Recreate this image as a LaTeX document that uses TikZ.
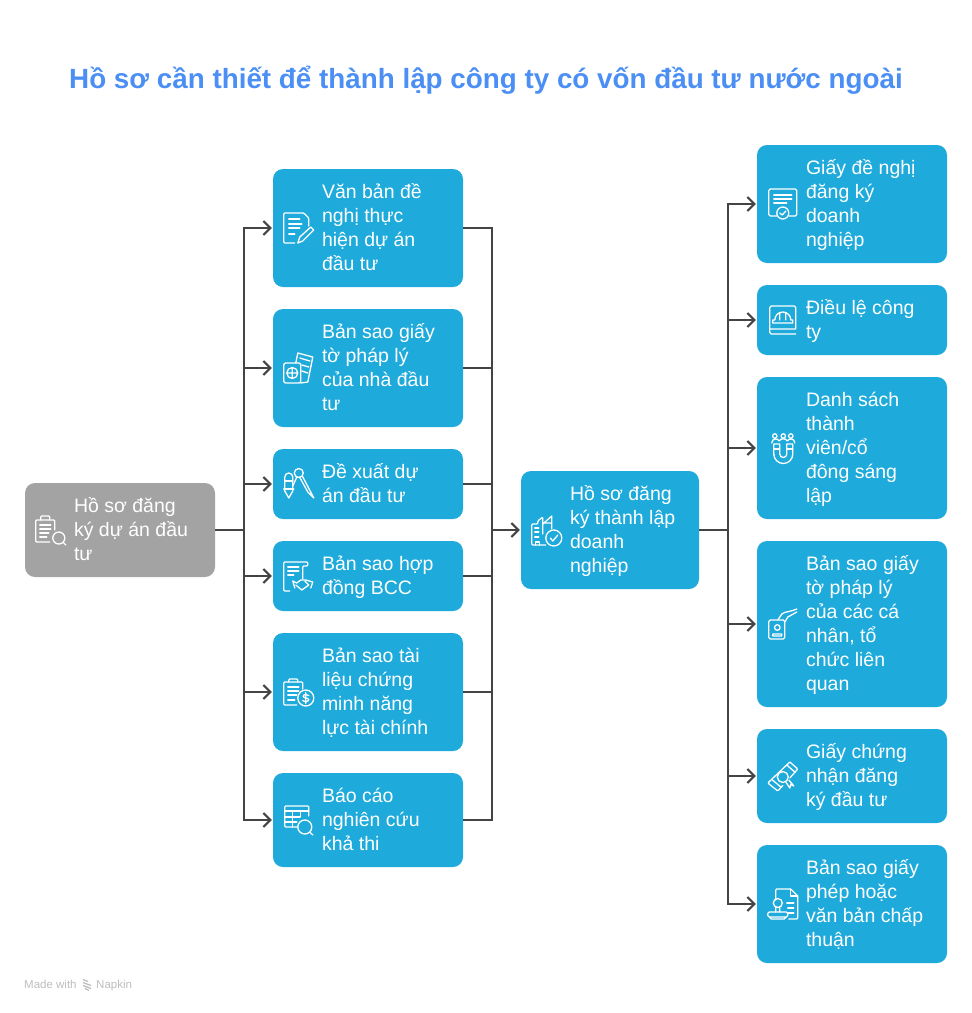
\documentclass[tikz,border=0pt]{standalone}
\usepackage{fontspec}
\setmainfont{Liberation Sans}
\usetikzlibrary{arrows.meta, positioning}
\definecolor{boxblue}{HTML}{1EAADB}
\definecolor{boxgray}{HTML}{A3A3A3}
\definecolor{titleblue}{HTML}{4B8FF5}
\definecolor{linkgray}{HTML}{444444}
\definecolor{footgray}{HTML}{BDBDBD}

\tikzset{
    icon/.style={draw=white, line width=1.3pt, line cap=round, line join=round},
    % document and pen
    icondocpen/.pic={
        \draw[icon, rounded corners=1pt] (22,15) -- (11,15) -- (11,-15) -- (31,-15) -- (36,-10) -- (36,-2);
        \draw[icon] (16,-9) -- (27,-9) (16,-4) -- (29,-4) (16,0) -- (27,0) (16,6) -- (22,6);
        \draw[icon] (25,15) -- (27,9) -- (38,-1) -- (41,2) -- (30,13) -- cycle;
    },
    % passport and ticket
    iconpassport/.pic={
        \draw[icon, rounded corners=2pt] (11,-5) rectangle (28,15);
        \draw[icon] (19.5,5) circle (5.5) (14,5) -- (25,5) (19.5,-0.5) -- (19.5,10.5);
        \draw[icon] (23,-5) -- (25,-15) -- (40,-11) -- (35,14) -- (28,15);
        \draw[icon] (27,-10) -- (37,-7) (29,-3) -- (36,-1) (29,3) -- (35,5);
    },
    % pencil and compass
    iconcompass/.pic={
        \draw[icon] (12,-7) -- (12,7) -- (16,14) -- (20,7) -- (20,-7) arc (0:-180:4) -- cycle;
        \draw[icon] (12,-3) -- (20,-3) (11,5) -- (21,5);
        \draw[icon] (26,-11) circle (4.5);
        \draw[icon] (24,-7) -- (20,2) (29.5,-8) -- (41,14) -- (35,8) -- (27,-6.5);
    },
    % contract and handshake
    iconcontract/.pic={
        \draw[icon, rounded corners=1pt] (17,15) -- (11,15) -- (11,-14) -- (35,-14) -- (35,-10) -- (30,-10) -- (30,3);
        \draw[icon] (15,-9) -- (26,-9) (15,-5) -- (26,-5) (15,-1) -- (21,-1);
        \draw[icon] (20,5) -- (24,7) -- (28,4) -- (33,4) -- (40,6) (22,12) -- (20,5) (38,12) -- (40,6);
        \draw[icon] (23,9) -- (29,14) -- (36,9) -- (32,5);
    },
    % clipboard and coin
    iconfinance/.pic={
        \draw[icon, rounded corners=1pt] (24,13) -- (11,13) -- (11,-10) -- (30,-10) -- (30,-3);
        \draw[icon, rounded corners=1pt] (16,-10) -- (16,-13) -- (25,-13) -- (25,-10);
        \draw[icon] (15,-5) -- (26,-5) (15,-1) -- (26,-1) (15,3) -- (24,3) (15,8) -- (22,8);
        \draw[icon] (33,6) circle (8);
        \draw[icon] (36,3.5) .. controls (34,1.5) and (30,2.5) .. (30.5,4.5) .. controls (31,6.5) and (35.5,5.5) .. (36,7.5) .. controls (36,9.5) and (32,10.5) .. (30,8.5) (33,0.5) -- (33,11.5);
    },
    % table and magnifier
    icontable/.pic={
        \draw[icon, rounded corners=1pt] (24,7) -- (12,7) -- (12,-14) -- (36,-14) -- (36,-4);
        \draw[icon] (12,-9) -- (36,-9) (12,-3) -- (27,-3) (12,2) -- (24,2) (20,-9) -- (20,7) (28,-9) -- (28,-3);
        \draw[icon] (32,7) circle (7) (37,12) -- (40,15);
    },
    % clipboard and magnifier
    iconreview/.pic={
        \draw[icon, rounded corners=1pt] (25,12) -- (11,12) -- (11,-10) -- (30,-10) -- (30,0);
        \draw[icon, rounded corners=1pt] (16,-10) -- (16,-14) -- (25,-14) -- (25,-10);
        \draw[icon] (15,-5) -- (26,-5) (15,-1) -- (26,-1) (15,3) -- (24,3) (15,7) -- (22,7);
        \draw[icon] (34,8) circle (6) (38.5,12.5) -- (41,15);
    },
    % building and check
    iconbuilding/.pic={
        \draw[icon, rounded corners=1pt] (25,15) -- (11,15) -- (11,-6) -- (17,-6) -- (17,-9) -- (22,-13) -- (22,4);
        \draw[icon] (22,-6) -- (31,-14) -- (31,-1) (22,-7) -- (30,-7);
        \draw[icon] (14,-2) -- (18,-2) (14,2) -- (18,2) (14,7) -- (18,7) (15,15) -- (15,12) -- (19,12) -- (19,15);
        \draw[icon] (33,8) circle (8) (29.5,8) -- (32,11) -- (37,5);
    },
    % form and seal
    iconform/.pic={
        \draw[icon, rounded corners=1.5pt] (20,12) -- (12,12) -- (12,-15) -- (40,-15) -- (40,12) -- (32,12);
        \draw[icon] (17,-9) -- (35,-9) (17,-5) -- (35,-5) (17,-1) -- (30,-1);
        \draw[icon] (26,9) circle (6) (23,9) -- (25.5,11) -- (29,7);
    },
    % book and helmet
    iconbook/.pic={
        \draw[icon, rounded corners=1.5pt] (39,9) -- (39,-14) -- (13,-14) -- (13,14) -- (39,14) (13,9) -- (39,9);
        \draw[icon] (16,3) -- (36,3) -- (36,0) -- (34,0) arc (0:-180:8) -- (16,0) -- cycle (23,-7) -- (23,0) (29,-7) -- (29,0);
    },
    % magnet and people
    iconmagnet/.pic={
        \draw[icon] (17,-4) -- (17,6) arc (180:0:9.5) -- (36,-4) -- (30,-4) -- (30,6) arc (0:180:3.5) -- (23,-4) -- cycle;
        \draw[icon] (17,1) -- (23,1) (30,1) -- (36,1);
        \draw[icon] (18,-12) circle (2.2) (26.5,-12) circle (2.2) (34,-12) circle (2.2);
        \draw[icon] (15,-5) .. controls (15,-10) and (21,-10) .. (22.5,-7) .. controls (24,-10) and (29,-10) .. (30.5,-7) .. controls (32,-10) and (38,-10) .. (38,-5);
    },
    % hand and identity card
    iconcard/.pic={
        \draw[icon, rounded corners=1.5pt] (12,-4) rectangle (28,15);
        \draw[icon] (20.5,3.5) circle (2.8) (16,12) -- (16,10) -- (25,10) -- (25,12) -- cycle;
        \draw[icon] (21,-4) -- (25,-10) .. controls (29,-13) and (34,-12) .. (40,-15);
        \draw[icon] (28,-2) -- (31,-7) -- (40,-12);
    },
    % diploma roll
    icondiploma/.pic={
        \draw[icon, rounded corners=1pt] (33,-14) -- (11,7) -- (21,15) -- (26,9.5) (33,2) -- (41,-7) -- (33,-14);
        \draw[icon] (15,3.5) -- (24,11) (30,-11) -- (38,-4);
        \draw[icon] (26,1) circle (5.5);
        \draw[icon] (29,6) -- (33,12) -- (34,8.5) -- (37,10) -- (32,4);
    },
    % document and stamp
    iconstamp/.pic={
        \draw[icon, rounded corners=1pt] (19,-4) -- (19,-15) -- (34,-15) -- (41,-8) -- (41,15) -- (32,15);
        \draw[icon] (34,-15) -- (34,-8) -- (41,-8) (30,-1) -- (37,-1) (31,4) -- (37,4) (31,9) -- (37,9);
        \draw[icon] (21,-1) circle (4.5) (19,3.5) -- (19,8) (23,3.5) -- (23,8);
        \draw[icon, rounded corners=1.5pt] (11,8) rectangle (31,13) (13,13) -- (13,15) -- (29,15) -- (29,13);
    }
}

\begin{document}
\begin{tikzpicture}[
    x=1pt, y=-1pt,
    flowbox/.style={rectangle, fill=boxblue, rounded corners=10pt, minimum width=190pt, text width=190pt, inner xsep=0pt, inner ysep=0pt, text=white, font=\fontsize{19.5}{24}\selectfont, execute at begin node={\leftskip=49pt\rightskip=0pt plus 1fil\spaceskip=0.28em\relax\rule[-5.5pt]{0pt}{24pt}}, execute at end node={\rule[-5.5pt]{0pt}{24pt}}},
    startbox/.style={flowbox, fill=boxgray},
    midbox/.style={flowbox, minimum width=178pt, text width=178pt},
    link/.style={draw=linkgray, line width=2pt},
    linkarrow/.style={link, -{Straight Barb[length=7pt, width=14pt, line width=2pt]}, shorten >=1pt},
    footnote/.style={font=\fontsize{11.5}{14}\selectfont, text=footgray, anchor=base west, inner sep=0pt}
]
\useasboundingbox (0,0) rectangle (972,1013);

% Title
\node[font=\fontsize{27.8}{34}\selectfont\bfseries, text=titleblue] (title) at (486,80) {Hồ sơ cần thiết để thành lập công ty có vốn đầu tư nước ngoài};

% Start node
\node[startbox, minimum height=94pt] (source) at (120,530) {Hồ sơ đăng\\ký dự án đầu\\tư};

% Middle column
\node[flowbox, minimum height=118pt] (vanban) at (368,228) {Văn bản đề\\nghị thực\\hiện dự án\\đầu tư};
\node[flowbox, minimum height=118pt] (bansao) at (368,368) {Bản sao giấy\\tờ pháp lý\\của nhà đầu\\tư};
\node[flowbox, minimum height=70pt] (dexuat) at (368,484) {Đề xuất dự\\án đầu tư};
\node[flowbox, minimum height=70pt] (hopdong) at (368,576) {Bản sao hợp\\đồng BCC};
\node[flowbox, minimum height=118pt] (taichinh) at (368,692) {Bản sao tài\\liệu chứng\\minh năng\\lực tài chính};
\node[flowbox, minimum height=94pt] (baocao) at (368,820) {Báo cáo\\nghiên cứu\\khả thi};

% Registration node
\node[midbox, minimum height=118pt] (hosodn) at (610,530) {Hồ sơ đăng\\ký thành lập\\doanh\\nghiệp};

% Right column
\node[flowbox, minimum height=118pt] (giaydenghi) at (852,204) {Giấy đề nghị\\đăng ký\\doanh\\nghiệp};
\node[flowbox, minimum height=70pt] (dieule) at (852,320) {Điều lệ công\\ty};
\node[flowbox, minimum height=142pt] (danhsach) at (852,448) {Danh sách\\thành\\viên/cổ\\đông sáng\\lập};
\node[flowbox, minimum height=166pt] (phaply) at (852,624) {Bản sao giấy\\tờ pháp lý\\của các cá\\nhân, tổ\\chức liên\\quan};
\node[flowbox, minimum height=94pt] (chungnhan) at (852,776) {Giấy chứng\\nhận đăng\\ký đầu tư};
\node[flowbox, minimum height=118pt] (giayphep) at (852,904) {Bản sao giấy\\phép hoặc\\văn bản chấp\\thuận};

% Icons
\pic at (source.west) {iconreview};
\pic at (vanban.west) {icondocpen};
\pic at (bansao.west) {iconpassport};
\pic at (dexuat.west) {iconcompass};
\pic at (hopdong.west) {iconcontract};
\pic at (taichinh.west) {iconfinance};
\pic at (baocao.west) {icontable};
\pic at (hosodn.west) {iconbuilding};
\pic at (giaydenghi.west) {iconform};
\pic at (dieule.west) {iconbook};
\pic at (danhsach.west) {iconmagnet};
\pic at (phaply.west) {iconcard};
\pic at (chungnhan.west) {icondiploma};
\pic at (giayphep.west) {iconstamp};

% Junctions
\coordinate (splitleft) at (244,530);
\coordinate (joinmid) at (492,530);
\coordinate (splitright) at (728,530);

% Connectors
\draw[link] (source.east) -- (splitleft);
\foreach \target in {vanban, bansao, dexuat, hopdong, taichinh, baocao} {
    \draw[linkarrow] (splitleft) |- (\target.west);
    \draw[link] (\target.east) -| (joinmid);
}
\draw[linkarrow] (joinmid) -- (hosodn.west);
\draw[link] (hosodn.east) -- (splitright);
\foreach \target in {giaydenghi, dieule, danhsach, phaply, chungnhan, giayphep} {
    \draw[linkarrow] (splitright) |- (\target.west);
}

% Footer
\node[footnote] (madewith) at (24,988) {Made with};
\coordinate (logo) at (87,984.5);
\draw[footgray, line width=1.3pt] ([shift={(-4,-5)}]logo) -- ++(5,2) ([shift={(-4,-2)}]logo) -- ++(8,3) ([shift={(-4,1)}]logo) -- ++(8,3) ([shift={(-2,4)}]logo) -- ++(4,2);
\node[footnote] (napkin) at (96,988) {Napkin};

\end{tikzpicture}
\end{document}
